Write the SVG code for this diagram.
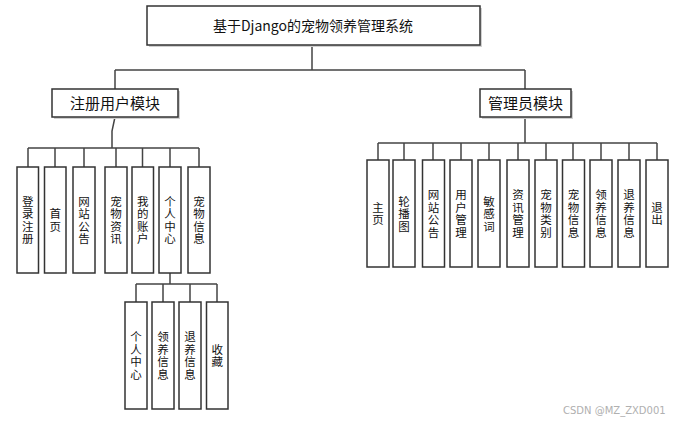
<svg xmlns="http://www.w3.org/2000/svg" width="688" height="425" viewBox="0 0 688 425">
<style>
.box{fill:#fff;stroke:#333;stroke-width:1.5}
.sh{fill:#d0d0d0}
.ln{fill:none;stroke:#444;stroke-width:1.5}
text{font-family:"Noto Sans CJK SC","Microsoft YaHei",sans-serif;fill:#111;text-anchor:middle}
.t{font-size:11.5px}
.m{font-size:15px}
.h{font-size:14px}
.wm{font-size:10px;fill:#b0b0b0;text-anchor:start;font-family:"DejaVu Sans",sans-serif}
</style>
<rect width="688" height="425" fill="#fff"/>
<g id="connectors">
<path class="ln" d="M312 45V70M115 70H525M115 70V89M525 70V89"/>
<path class="ln" d="M115 117L112 131V148M28 148H199M28 148V167M55 148V167M84 148V167M116 148V167M142.5 148V167M170 148V167M199 148V167"/>
<path class="ln" d="M170 273V284M136 284H217M136 284V302M163 284V302M190 284V302M217 284V302"/>
<path class="ln" d="M525 117V143M378 143H657M378 143V160M404 143V160M433 143V160M461 143V160M489 143V160M518 143V160M546 143V160M573 143V160M601 143V160M629 143V160M657 143V160"/>
</g>
<g id="root"><rect class="sh" x="149" y="8" width="333" height="39"/><rect class="box" x="147" y="6" width="333" height="39"/><text class="h" x="313" y="31">基于Django的宠物领养管理系统</text></g>
<g id="user"><rect class="sh" x="54" y="91" width="126" height="28"/><rect class="box" x="52" y="89" width="126" height="28"/><text class="m" x="115" y="109">注册用户模块</text></g>
<g id="admin"><rect class="sh" x="482" y="91" width="91" height="28"/><rect class="box" x="480" y="89" width="91" height="28"/><text class="m" x="525.5" y="109">管理员模块</text></g>

<g id="u1"><rect class="box" x="17" y="167" width="21.5" height="106"/><text class="t"><tspan x="27.75" y="205.75">登</tspan><tspan x="27.75" dy="12.5">录</tspan><tspan x="27.75" dy="12.5">注</tspan><tspan x="27.75" dy="12.5">册</tspan></text></g>
<g id="u2"><rect class="box" x="44.5" y="167" width="21.5" height="106"/><text class="t"><tspan x="55.25" y="218.25">首</tspan><tspan x="55.25" dy="12.5">页</tspan></text></g>
<g id="u3"><rect class="box" x="73" y="167" width="22" height="106"/><text class="t"><tspan x="84" y="205.75">网</tspan><tspan x="84" dy="12.5">站</tspan><tspan x="84" dy="12.5">公</tspan><tspan x="84" dy="12.5">告</tspan></text></g>
<g id="u4"><rect class="box" x="105" y="167" width="22" height="106"/><text class="t"><tspan x="116" y="205.75">宠</tspan><tspan x="116" dy="12.5">物</tspan><tspan x="116" dy="12.5">资</tspan><tspan x="116" dy="12.5">讯</tspan></text></g>
<g id="u5"><rect class="box" x="132" y="167" width="21.5" height="106"/><text class="t"><tspan x="142.75" y="205.75">我</tspan><tspan x="142.75" dy="12.5">的</tspan><tspan x="142.75" dy="12.5">账</tspan><tspan x="142.75" dy="12.5">户</tspan></text></g>
<g id="u6"><rect class="box" x="159" y="167" width="22" height="106"/><text class="t"><tspan x="170" y="205.75">个</tspan><tspan x="170" dy="12.5">人</tspan><tspan x="170" dy="12.5">中</tspan><tspan x="170" dy="12.5">心</tspan></text></g>
<g id="u7"><rect class="box" x="188" y="167" width="22" height="106"/><text class="t"><tspan x="199" y="205.75">宠</tspan><tspan x="199" dy="12.5">物</tspan><tspan x="199" dy="12.5">信</tspan><tspan x="199" dy="12.5">息</tspan></text></g>

<g id="c1"><rect class="box" x="125" y="302" width="22" height="107"/><text class="t"><tspan x="136" y="341.25">个</tspan><tspan x="136" dy="12.5">人</tspan><tspan x="136" dy="12.5">中</tspan><tspan x="136" dy="12.5">心</tspan></text></g>
<g id="c2"><rect class="box" x="152" y="302" width="22" height="107"/><text class="t"><tspan x="163" y="341.25">领</tspan><tspan x="163" dy="12.5">养</tspan><tspan x="163" dy="12.5">信</tspan><tspan x="163" dy="12.5">息</tspan></text></g>
<g id="c3"><rect class="box" x="179" y="302" width="22" height="107"/><text class="t"><tspan x="190" y="341.25">退</tspan><tspan x="190" dy="12.5">养</tspan><tspan x="190" dy="12.5">信</tspan><tspan x="190" dy="12.5">息</tspan></text></g>
<g id="c4"><rect class="box" x="206.5" y="302" width="21.5" height="107"/><text class="t"><tspan x="217.25" y="353.75">收</tspan><tspan x="217.25" dy="12.5">藏</tspan></text></g>

<g id="a1"><rect class="box" x="367" y="160" width="22" height="107"/><text class="t"><tspan x="378" y="211.75">主</tspan><tspan x="378" dy="12.5">页</tspan></text></g>
<g id="a2"><rect class="box" x="393" y="160" width="22" height="107"/><text class="t"><tspan x="404" y="205.5">轮</tspan><tspan x="404" dy="12.5">播</tspan><tspan x="404" dy="12.5">图</tspan></text></g>
<g id="a3"><rect class="box" x="422.5" y="160" width="22" height="107"/><text class="t"><tspan x="433.5" y="199.25">网</tspan><tspan x="433.5" dy="12.5">站</tspan><tspan x="433.5" dy="12.5">公</tspan><tspan x="433.5" dy="12.5">告</tspan></text></g>
<g id="a4"><rect class="box" x="450" y="160" width="22" height="107"/><text class="t"><tspan x="461" y="199.25">用</tspan><tspan x="461" dy="12.5">户</tspan><tspan x="461" dy="12.5">管</tspan><tspan x="461" dy="12.5">理</tspan></text></g>
<g id="a5"><rect class="box" x="478" y="160" width="22" height="107"/><text class="t"><tspan x="489" y="205.5">敏</tspan><tspan x="489" dy="12.5">感</tspan><tspan x="489" dy="12.5">词</tspan></text></g>
<g id="a6"><rect class="box" x="507" y="160" width="22" height="107"/><text class="t"><tspan x="518" y="199.25">资</tspan><tspan x="518" dy="12.5">讯</tspan><tspan x="518" dy="12.5">管</tspan><tspan x="518" dy="12.5">理</tspan></text></g>
<g id="a7"><rect class="box" x="535" y="160" width="22" height="107"/><text class="t"><tspan x="546" y="199.25">宠</tspan><tspan x="546" dy="12.5">物</tspan><tspan x="546" dy="12.5">类</tspan><tspan x="546" dy="12.5">别</tspan></text></g>
<g id="a8"><rect class="box" x="562.5" y="160" width="22" height="107"/><text class="t"><tspan x="573.5" y="199.25">宠</tspan><tspan x="573.5" dy="12.5">物</tspan><tspan x="573.5" dy="12.5">信</tspan><tspan x="573.5" dy="12.5">息</tspan></text></g>
<g id="a9"><rect class="box" x="590" y="160" width="22" height="107"/><text class="t"><tspan x="601" y="199.25">领</tspan><tspan x="601" dy="12.5">养</tspan><tspan x="601" dy="12.5">信</tspan><tspan x="601" dy="12.5">息</tspan></text></g>
<g id="a10"><rect class="box" x="618" y="160" width="22" height="107"/><text class="t"><tspan x="629" y="199.25">退</tspan><tspan x="629" dy="12.5">养</tspan><tspan x="629" dy="12.5">信</tspan><tspan x="629" dy="12.5">息</tspan></text></g>
<g id="a11"><rect class="box" x="646" y="160" width="22" height="107"/><text class="t"><tspan x="657" y="211.75">退</tspan><tspan x="657" dy="12.5">出</tspan></text></g>

<text class="wm" x="563" y="414">CSDN @MZ_ZXD001</text>
</svg>
